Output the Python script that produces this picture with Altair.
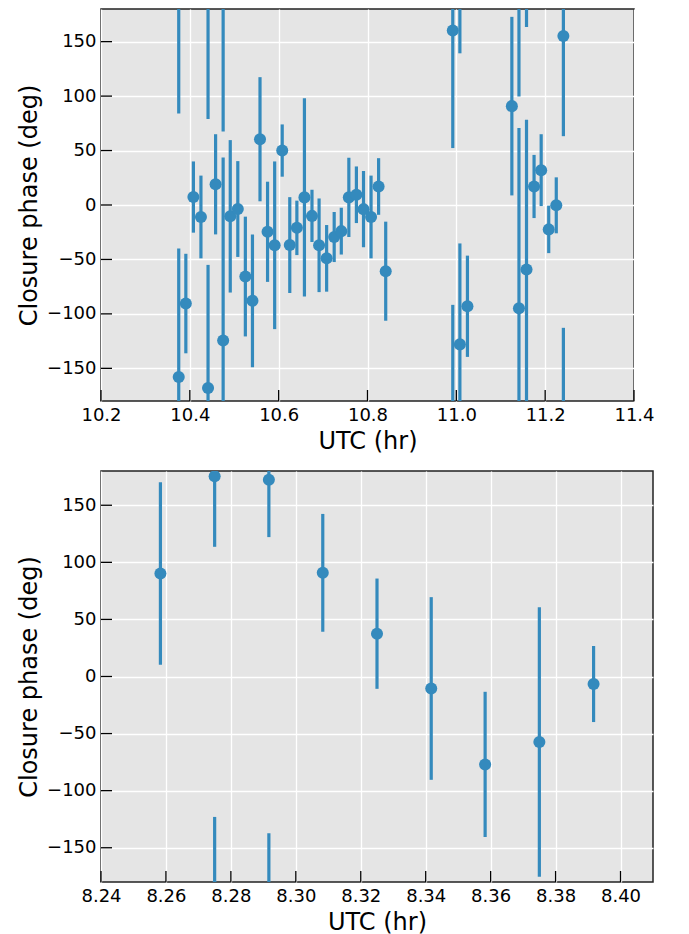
import altair as alt
import pandas as pd

# ---- data ----
top_utc = [10.375, 10.391, 10.408, 10.425, 10.441, 10.458, 10.475, 10.491, 10.508, 10.525,
           10.541, 10.558, 10.575, 10.591, 10.608, 10.625, 10.641, 10.658, 10.675, 10.691,
           10.708, 10.725, 10.741, 10.758, 10.775, 10.791, 10.808, 10.825, 10.841,
           10.992, 11.008, 11.025,
           11.125, 11.141, 11.158, 11.175, 11.191, 11.208, 11.225, 11.241]
top_phase = [-158, -90.5, 7.3, -11, -168, 19, -124.4, -10.4, -3.7, -65.7,
             -88, 60.4, -24.6, -37, 50, -36.8, -21, 7, -10, -37,
             -49, -29.4, -24, 7, 9.4, -3.8, -11, 17, -60.8,
             160.3, -128, -93,
             90.8, -94.8, -59.2, 17, 32, -22.4, -0.3, 155.2]
top_err = [118, 45.7, 32.7, 38, 113, 46, 168, 70, 44, 55,
           61, 57, 46, 77, 24, 44, 25, 91, 24, 43,
           30.6, 23, 21.5, 36.4, 26, 35, 38, 26, 45.5,
           108, 92.7, 46.5,
           82, 165.5, 137.4, 29, 33, 21.8, 25.7, 92]

bot_utc = [8.2583, 8.275, 8.2917, 8.3083, 8.325, 8.3417, 8.3583, 8.375, 8.3917]
bot_phase = [90.2, 175.3, 172.4, 90.8, 37.5, -10.5, -77, -57.4, -6.6]
bot_err = [80, 61.7, 50.3, 51.6, 48.3, 80, 63.6, 118, 33.3]

top_xticks = [10.2, 10.4, 10.6, 10.8, 11.0, 11.2, 11.4]
bot_xticks = [8.24, 8.26, 8.28, 8.30, 8.32, 8.34, 8.36, 8.38, 8.40]
yticks = [-150, -100, -50, 0, 50, 100, 150]

COLOR = "#348ABD"


def wrapped(xs, vs, es):
    rows = []
    for x, v, e in zip(xs, vs, es):
        for shift in (-360, 0, 360):
            rows.append({"x": x, "y": v + shift, "lo": v + shift - e, "hi": v + shift + e})
    return pd.DataFrame(rows)


def panel(xs, vs, es, xdomain, xticks, fmt, w, h):
    df = wrapped(xs, vs, es)
    xs_scale = alt.Scale(domain=xdomain, nice=False, zero=False)
    ys_scale = alt.Scale(domain=[-180, 180], nice=False, zero=False)
    xaxis = alt.Axis(values=xticks, format=fmt, title="UTC (hr)")
    yaxis = alt.Axis(values=yticks, title="Closure phase (deg)")
    base = alt.Chart(df)
    pts = base.mark_circle(clip=True, size=145, opacity=1, color=COLOR).encode(
        x=alt.X("x:Q", scale=xs_scale, axis=xaxis),
        y=alt.Y("y:Q", scale=ys_scale, axis=yaxis),
    )
    bars = base.mark_rule(clip=True, strokeWidth=3.2, color=COLOR).encode(
        x=alt.X("x:Q", scale=xs_scale, axis=xaxis),
        y=alt.Y("lo:Q", scale=ys_scale, axis=yaxis),
        y2="hi:Q",
    )
    xt = alt.Chart(pd.DataFrame({"x": xticks})).mark_rule(color="black", strokeWidth=1.3).encode(
        x=alt.X("x:Q", scale=xs_scale, axis=xaxis),
        y=alt.value(h), y2=alt.value(h - 11),
    )
    yt = alt.Chart(pd.DataFrame({"y": yticks})).mark_rule(color="black", strokeWidth=1.3).encode(
        y=alt.Y("y:Q", scale=ys_scale, axis=yaxis),
        x=alt.value(0), x2=alt.value(11),
    )
    return alt.layer(bars, pts, xt, yt).properties(width=w, height=h)


top = panel(top_utc, top_phase, top_err, [10.2, 11.4], top_xticks, ".1f", 533, 392)
bot = panel(bot_utc, bot_phase, bot_err, [8.24, 8.41], bot_xticks, ".2f", 552, 411)

chart = alt.vconcat(top, bot, spacing=16).properties(
    padding={"left": 8, "top": 0, "right": 0, "bottom": 0}
).configure(
    background="white"
).configure_view(
    fill="#E5E5E5", stroke="#222222", strokeWidth=1.5
).configure_axis(
    grid=True, gridColor="white", gridWidth=1.3, gridOpacity=1,
    ticks=False, domain=False,
    labelFont="DejaVu Sans", labelFontSize=18, labelColor="black", labelPadding=5,
    labelFlush=False, labelOverlap=False, labelBound=False,
    titleFont="DejaVu Sans", titleFontSize=24, titleFontWeight="normal", titleColor="black",
    titlePadding=5,
)

chart.save("out.html", embed_options={"renderer": "svg", "actions": False})
